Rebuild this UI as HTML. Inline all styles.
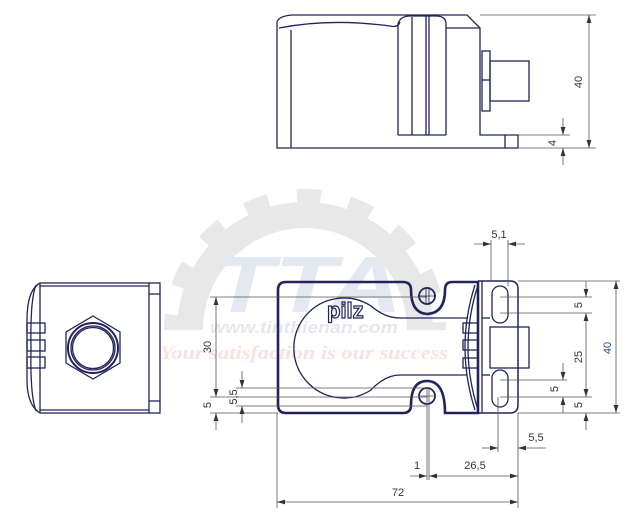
<!DOCTYPE html>
<html><head><meta charset="utf-8"><style>
html,body{margin:0;padding:0;background:#fff;}
svg{display:block;}
</style></head><body>
<svg width="638" height="523" viewBox="0 0 638 523" xmlns="http://www.w3.org/2000/svg" font-family="Liberation Sans, sans-serif">
<defs>
<marker id="a" viewBox="0 0 10 6" refX="10" refY="3" markerWidth="8" markerHeight="5" orient="auto-start-reverse" markerUnits="userSpaceOnUse"><path d="M0,0L10,3L0,6z" fill="#333"/></marker>
</defs>
<!-- watermark -->
<g>
<path d="M190,330 A115,115 0 0 1 420,330" fill="none" stroke="#e8e8e8" stroke-width="26"/>
<path d="M183,330 A122,122 0 0 1 427,330" fill="none" stroke="#e8e8e8" stroke-width="38" stroke-dasharray="22 26" stroke-dashoffset="8"/>
<text x="212" y="312" style="font-family:'Liberation Sans',sans-serif;font-size:80px;font-weight:bold;font-style:italic" fill="#e4e8f1" textLength="190" lengthAdjust="spacingAndGlyphs">TTA</text>
<text x="210" y="333" style="font-family:'Liberation Sans',sans-serif;font-size:17px;font-weight:bold;font-style:italic" fill="#e6e7ec" textLength="188" lengthAdjust="spacingAndGlyphs">www.tinthienan.com</text>
<text x="160" y="359" style="font-family:'Liberation Serif',serif;font-size:19px;font-weight:bold;font-style:italic" fill="#fbe0e0" textLength="288" lengthAdjust="spacingAndGlyphs">Your satisfaction is our success</text>
</g>

<g fill="none" stroke="#23235b" stroke-width="1.3">
<!-- TOP VIEW -->
<path d="M277,148 L277,22 Q279,16 292,15 L467,15 L480,28 L480,135 L505,135 L505,148 Z"/>
<line x1="291" y1="30" x2="291" y2="148"/>
<path d="M279,28 Q330,18 390,26 Q398,28 400,22"/>
<path d="M398,135 L398,24 Q400,16 410,16 L436,16 Q446,16 446,24 L446,135"/>
<line x1="412" y1="17" x2="412" y2="135"/>
<line x1="426" y1="16" x2="426" y2="135"/>
<line x1="429" y1="16" x2="429" y2="135"/>
<line x1="446" y1="28" x2="480" y2="28"/>
<line x1="398" y1="135" x2="446" y2="135"/>
<path d="M505,135 L518,135 L518,148 L505,148"/>
<rect x="482" y="51" width="8" height="60"/>
<line x1="482" y1="80" x2="490" y2="80"/>
<rect x="490" y="61" width="39" height="40"/>

<!-- LEFT VIEW -->
<rect x="40" y="283" width="120" height="130"/>
<line x1="40" y1="286" x2="149" y2="286"/>
<line x1="40" y1="410" x2="149" y2="410"/>
<line x1="149" y1="283" x2="149" y2="413"/>
<line x1="149" y1="294" x2="160" y2="294"/>
<line x1="149" y1="401" x2="160" y2="401"/>
<path d="M40,283 Q27,290 27,320 L27,380 Q27,405 40,413"/>
<path d="M36,285 Q30,300 31,348 Q30,395 36,411"/>
<rect x="27" y="323" width="18" height="10"/>
<rect x="27" y="340" width="18" height="11"/>
<rect x="27" y="357" width="18" height="11"/>
<polygon points="93,316 120,332 120,363 93,379 66,363 66,332"/>
<circle cx="93" cy="348" r="25" stroke-width="2"/>
<circle cx="93" cy="348" r="22"/>
<circle cx="93" cy="348" r="20.5"/>

<!-- BOTTOM VIEW -->
<path d="M286,282 L403,282 Q411,282 411,290 Q411,313 427,314 Q445,313 445,290 Q445,282 452,282 L478,282 L478,413 L445,413 Q445,381 427,381 Q411,381 411,405 Q411,413 403,413 L286,413 Q278,413 278,405 L278,290 Q278,282 286,282 Z" stroke-width="2.6"/>
<path d="M478,281 L510,281 Q518,281 518,289 L518,405 Q518,413 510,413 L478,413" stroke-width="1.5"/>
<line x1="482" y1="281" x2="482" y2="413"/>
<path d="M478,285 Q458,347 478,410"/>
<path d="M475,285 Q455,347 475,410"/>
<circle cx="427" cy="296" r="8" stroke-width="1.8"/>
<circle cx="427" cy="396" r="8" stroke-width="1.8"/>
<line x1="426" y1="287" x2="426" y2="305" stroke-width="0.8"/>
<line x1="429" y1="287" x2="429" y2="305" stroke-width="0.8"/>
<line x1="418" y1="296" x2="436" y2="296" stroke-width="0.8"/>
<path d="M371,306 Q385,318 400,318 L467,318"/>
<path d="M371,390 Q385,375 400,375 L467,375"/>
<path d="M371,306 A50,50 0 1 0 371,390"/>
<rect x="492" y="286" width="16" height="37" rx="8"/>
<rect x="492" y="370" width="16" height="37" rx="8"/>
<rect x="490" y="327" width="39" height="41"/>
<line x1="482" y1="318" x2="490" y2="318"/>
<line x1="482" y1="375" x2="490" y2="375"/>
<rect x="463" y="323" width="15" height="10"/>
<rect x="463" y="340" width="15" height="10"/>
<rect x="463" y="358" width="15" height="10"/>
</g>
<text x="327" y="318" font-size="22" font-weight="bold" fill="#fff" stroke="#23235b" stroke-width="1.2">pilz</text>

<!-- dimension lines -->
<g stroke="#555" stroke-width="0.8" fill="none">
<line x1="480" y1="15" x2="596" y2="15"/>
<line x1="518" y1="148" x2="596" y2="148"/>
<line x1="518" y1="135" x2="570" y2="135"/>
<line x1="589" y1="15" x2="589" y2="148" marker-start="url(#a)" marker-end="url(#a)"/>
<line x1="563" y1="118" x2="563" y2="135" marker-end="url(#a)"/>
<line x1="563" y1="165" x2="563" y2="148" marker-end="url(#a)"/>
<line x1="491" y1="240" x2="491" y2="282"/>
<line x1="508" y1="240" x2="508" y2="286"/>
<line x1="474" y1="244" x2="491" y2="244" marker-end="url(#a)"/>
<line x1="525" y1="244" x2="508" y2="244" marker-end="url(#a)"/>
<line x1="518" y1="281" x2="620" y2="281"/>
<line x1="500" y1="297" x2="592" y2="297"/>
<line x1="500" y1="313" x2="592" y2="313"/>
<line x1="500" y1="380" x2="567" y2="380"/>
<line x1="500" y1="397" x2="592" y2="397"/>
<line x1="518" y1="413" x2="620" y2="413"/>
<line x1="616" y1="281" x2="616" y2="413" marker-start="url(#a)" marker-end="url(#a)"/>
<line x1="586" y1="281" x2="586" y2="297" marker-end="url(#a)"/>
<line x1="586" y1="313" x2="586" y2="397" marker-start="url(#a)" marker-end="url(#a)"/>
<line x1="586" y1="430" x2="586" y2="413" marker-end="url(#a)"/>
<line x1="563" y1="363" x2="563" y2="380" marker-end="url(#a)"/>
<line x1="563" y1="413" x2="563" y2="397" marker-end="url(#a)"/>
<line x1="210" y1="297" x2="427" y2="297"/>
<line x1="236" y1="388" x2="427" y2="388"/>
<line x1="210" y1="397" x2="427" y2="397"/>
<line x1="236" y1="406" x2="427" y2="406"/>
<line x1="210" y1="413" x2="278" y2="413"/>
<line x1="216" y1="297" x2="216" y2="397" marker-start="url(#a)" marker-end="url(#a)"/>
<line x1="216" y1="430" x2="216" y2="413" marker-end="url(#a)"/>
<line x1="242" y1="371" x2="242" y2="388" marker-end="url(#a)"/>
<line x1="242" y1="423" x2="242" y2="406" marker-end="url(#a)"/>
<line x1="277" y1="413" x2="277" y2="508"/>
<line x1="518" y1="413" x2="518" y2="508"/>
<line x1="427" y1="387" x2="427" y2="480"/>
<line x1="429" y1="387" x2="429" y2="480"/>
<line x1="418" y1="396" x2="436" y2="396"/>
<line x1="498" y1="397" x2="498" y2="452"/>
<line x1="482" y1="448" x2="498" y2="448" marker-end="url(#a)"/>
<line x1="546" y1="448" x2="518" y2="448" marker-end="url(#a)"/>
<line x1="410" y1="476" x2="427" y2="476" marker-end="url(#a)"/>
<line x1="429" y1="476" x2="518" y2="476" marker-start="url(#a)" marker-end="url(#a)"/>
<line x1="277" y1="502" x2="518" y2="502" marker-start="url(#a)" marker-end="url(#a)"/>
</g>

<g font-size="11" fill="#333">
<text transform="translate(582,82) rotate(-90)" text-anchor="middle">40</text>
<text transform="translate(556,143) rotate(-90)" text-anchor="middle">4</text>
<text x="499" y="238" text-anchor="middle">5,1</text>
<text transform="translate(611,348) rotate(-90)" text-anchor="middle" fill="#2a4a8a">40</text>
<text transform="translate(582,305) rotate(-90)" text-anchor="middle">5</text>
<text transform="translate(582,357) rotate(-90)" text-anchor="middle">25</text>
<text transform="translate(582,405) rotate(-90)" text-anchor="middle">5</text>
<text transform="translate(558,389) rotate(-90)" text-anchor="middle">5</text>
<text transform="translate(211,347) rotate(-90)" text-anchor="middle">30</text>
<text transform="translate(211,405) rotate(-90)" text-anchor="middle">5</text>
<text transform="translate(237,397) rotate(-90)" text-anchor="middle">5,5</text>
<text x="536" y="441" text-anchor="middle">5,5</text>
<text x="417" y="469" text-anchor="middle">1</text>
<text x="475" y="469" text-anchor="middle">26,5</text>
<text x="398" y="496" text-anchor="middle">72</text>
</g>
</svg>
</body></html>
